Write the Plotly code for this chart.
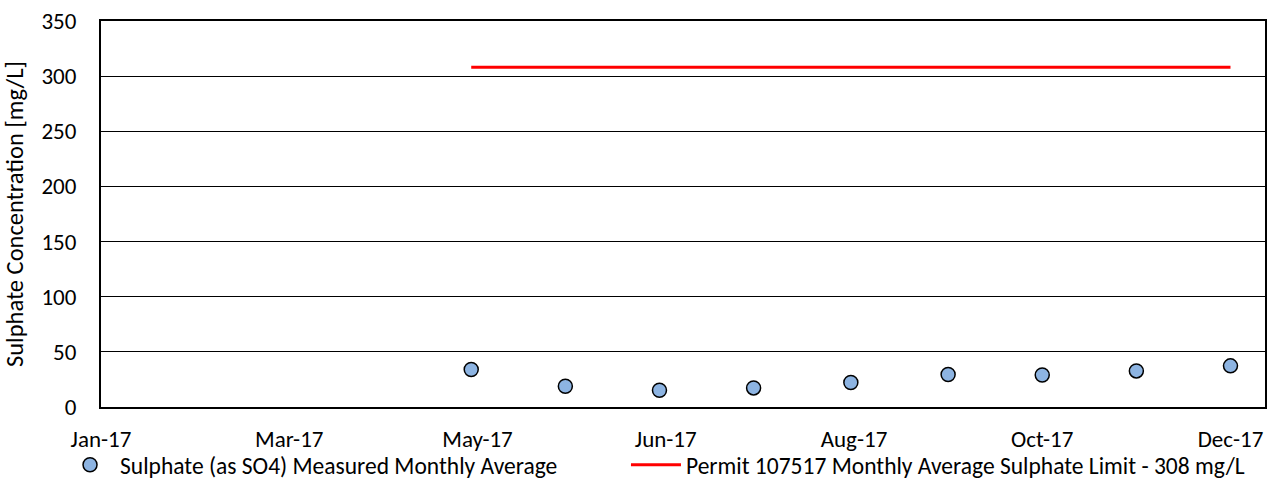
import plotly.graph_objects as go

dates = ["2017-04-29", "2017-05-29", "2017-06-28", "2017-07-28", "2017-08-28",
         "2017-09-28", "2017-10-28", "2017-11-27", "2017-12-27"]
sulphate = [34.0, 18.8, 15.2, 17.3, 22.2, 29.5, 29.0, 32.7, 37.3]
limit = [308] * len(dates)

tick_dates = ["2017-01-01", "2017-03-02", "2017-05-01", "2017-06-30",
              "2017-08-29", "2017-10-28", "2017-12-27"]
tick_labels = ["Jan-17", "Mar-17", "May-17", "Jun-17", "Aug-17", "Oct-17", "Dec-17"]

FONT = "Carlito, Lato, sans-serif"

fig = go.Figure()
fig.add_trace(go.Scatter(
    x=dates, y=sulphate, mode="markers",
    name="Sulphate (as SO4) Measured Monthly Average",
    marker=dict(size=14, color="#8DB4E2", line=dict(color="black", width=1.5)),
    legend="legend",
))
fig.add_trace(go.Scatter(
    x=dates, y=limit, mode="lines",
    name="Permit 107517 Monthly Average Sulphate Limit - 308 mg/L",
    line=dict(color="#FF0000", width=3),
    legend="legend2",
))

legend_common = dict(orientation="h", xanchor="left", y=-0.0932, yanchor="top",
                     font=dict(family=FONT, size=23.5, color="black"),
                     itemwidth=50, bgcolor="rgba(0,0,0,0)")

fig.update_layout(
    width=1270, height=481,
    margin=dict(l=101, r=5, t=21, b=74, autoexpand=False),
    paper_bgcolor="white", plot_bgcolor="white",
    font=dict(family=FONT, size=23, color="black"),
    showlegend=True,
    legend=dict(x=-0.0352, **legend_common),
    legend2=dict(x=0.451, **legend_common),
)
fig.update_xaxes(
    type="date", range=["2017-01-01", "2018-01-07"],
    tickvals=tick_dates, ticktext=tick_labels,
    showgrid=False, zeroline=False, automargin=False,
    showline=True, linecolor="black", linewidth=2, mirror=True,
    ticks="", ticklabelstandoff=10,
    tickfont=dict(family=FONT, size=23, color="black"),
)
fig.update_yaxes(
    range=[0, 350], dtick=50, tick0=0, automargin=False,
    showgrid=True, gridcolor="black", gridwidth=1.3,
    zeroline=False,
    showline=True, linecolor="black", linewidth=2, mirror=True,
    ticks="", ticklabelstandoff=18,
    tickfont=dict(family=FONT, size=23, color="black"),
    title=dict(text="Sulphate Concentration [mg/L]", standoff=12,
               font=dict(family=FONT, size=24.5, color="black")),
)

fig.write_html("out.html",
               config={"displayModeBar": False},
               post_script="document.body.style.margin='0px';document.body.style.overflow='hidden';")
